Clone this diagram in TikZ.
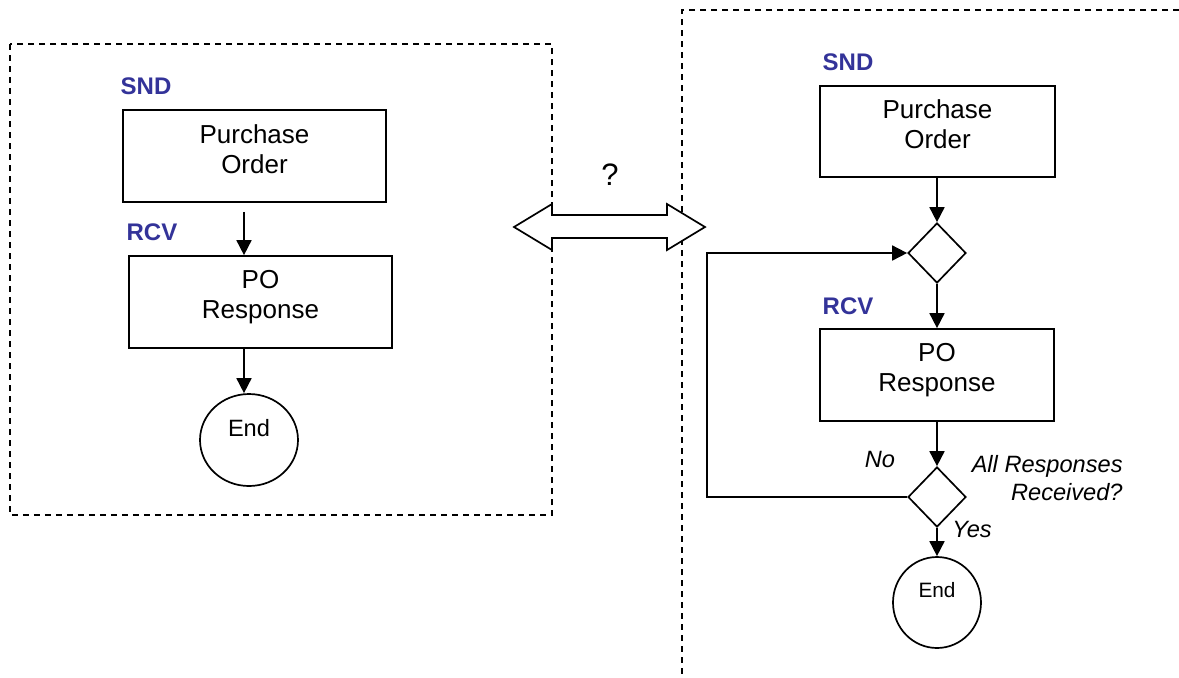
\documentclass[tikz,border=0pt]{standalone}
\usepackage{fontspec}
\setmainfont{Liberation Sans}
\usetikzlibrary{arrows.meta, shapes.geometric}
\definecolor{tagblue}{RGB}{51,51,153}

\begin{document}
\begin{tikzpicture}[x=0.5pt, y=-0.5pt,
    box/.style={draw, line width=0.85pt, minimum width=131.5pt, minimum height=46pt, inner sep=0pt},
    decision/.style={draw, diamond, line width=0.85pt, minimum width=29pt, minimum height=30pt, inner sep=0pt},
    endpt/.style={draw, ellipse, line width=0.85pt, inner sep=0pt},
    txt/.style={align=center, font=\fontsize{13}{15}\selectfont},
    tag/.style={text=tagblue, font=\fontsize{12}{14}\selectfont\bfseries},
    note/.style={font=\fontsize{11.8}{14}\selectfont\itshape},
    flow/.style={-{Triangle[width=7.5pt,length=7.5pt]}, line width=0.85pt},
    frame/.style={dash pattern=on 3.2pt off 2.3pt, line width=0.65pt}]

    \useasboundingbox (0,0) rectangle (1179,677);

    \draw[frame] (10,44) rectangle (552,515);
    \draw[frame] (1179,10) -- (682,10) -- (682,677);

    % left: single response
    \node[tag] (snd1) at (146,86) {SND};
    \node[box] (po1) at (254.5,156) {};
    \node[txt] at ([yshift=3.5pt]po1.center) {Purchase\\Order};
    \node[tag] (rcv1) at (152,232) {RCV};
    \node[box] (resp1) at (260.5,302) {};
    \node[txt] at ([yshift=2.5pt]resp1.center) {PO\\Response};
    \node[endpt, minimum width=49pt, minimum height=46pt] (end1) at (249,440) {};
    \node[font=\fontsize{11.8}{14}\selectfont] at ([yshift=6pt]end1.center) {End};

    \draw[flow, shorten <=4.5pt] (po1.south -| 244,0) -- (resp1.north -| 244,0);
    \draw[flow] (resp1.south -| 244,0) -- (end1.north -| 244,0);

    % the question
    \draw[line width=0.85pt, fill=white] (514,227) -- (552,204) -- (552,215) -- (667,215)
        -- (667,204) -- (705,227) -- (667,250) -- (667,238) -- (552,238) -- (552,250) -- cycle;
    \node[font=\fontsize{15.5}{17}\selectfont] (ask) at (610,175) {?};

    % right: many responses
    \node[tag] (snd2) at (848,62) {SND};
    \node[box, minimum width=117.5pt, minimum height=45.5pt] (po2) at (937.5,131.5) {};
    \node[txt] at ([yshift=3.5pt]po2.center) {Purchase\\Order};
    \node[decision] (d1) at (937,253) {};
    \node[tag] (rcv2) at (848,306) {RCV};
    \node[box, minimum width=117pt] (resp2) at (937,375) {};
    \node[txt] at ([yshift=2.5pt]resp2.center) {PO\\Response};
    \node[decision] (d2) at (937,497) {};
    \node[endpt, minimum width=44pt, minimum height=45.5pt] (end2) at (937,602.5) {};
    \node[font=\fontsize{10.4}{12}\selectfont] at ([yshift=6pt]end2.center) {End};

    \node[note] (no) at (880,459) {No};
    \node[note, align=right, anchor=east, inner sep=0pt] (allq) at (1123,478) {All Responses\\Received?};
    \node[note] (yes) at (972,529) {Yes};

    \coordinate (back) at (707,497);
    \draw[flow] (po2.south -| d1.north) -- (d1.north);
    \draw[flow] (d1.south) -- (resp2.north -| d1.south);
    \draw[flow] (resp2.south -| d2.north) -- (d2.north);
    \draw[flow] (d2.south) -- (end2.north);
    \draw[flow] (d2.west) -- (back) |- (d1.west);

\end{tikzpicture}
\end{document}
